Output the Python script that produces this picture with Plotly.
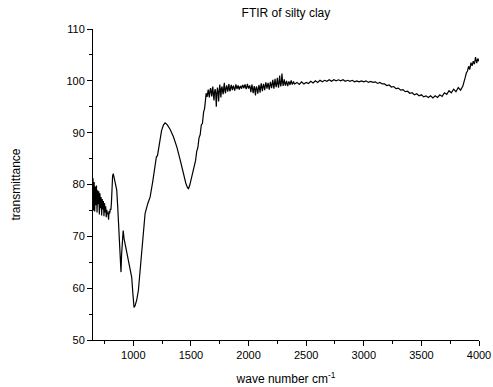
import plotly.graph_objects as go

# wavenumber (cm^-1) and transmittance values
wn_low = [650, 655, 660, 665, 670, 675, 680, 685, 690, 695, 700, 705, 710, 715, 720,
          725, 730, 735, 740, 745, 750, 755, 760, 765, 770, 775, 780, 785, 790, 795, 800]
tr_low = [81.2, 75.0, 80.5, 74.8, 79.6, 76.0, 79.8, 74.6, 78.9, 76.2, 78.7, 74.2, 78.3, 75.4, 77.6,
          74.0, 77.2, 75.2, 76.8, 73.9, 76.4, 74.6, 75.8, 73.7, 75.1, 74.3, 74.6, 73.2, 74.9, 74.4, 75.3]

wn_fp = [805, 810, 815, 820, 826, 835, 845, 856, 865, 875, 885, 893, 898, 905, 912, 920, 934,
         950, 963, 975, 986, 996, 1006, 1015, 1030, 1044, 1058, 1073, 1088, 1102, 1125, 1146,
         1168, 1189, 1196, 1200, 1210, 1225, 1245, 1262, 1276, 1295, 1320, 1348, 1378, 1407,
         1430, 1455, 1470, 1479, 1490, 1505, 1522, 1530, 1540, 1550, 1560, 1570, 1580, 1590,
         1600, 1610, 1618, 1624, 1632, 1640]
tr_fp = [75.1, 76.5, 79.5, 81.6, 82.1, 81.0, 80.0, 78.9, 75.5, 70.0, 65.0, 63.1, 66.5, 70.0, 71.1, 69.5, 67.9,
         66.6, 65.3, 63.6, 62.1, 59.0, 56.3, 56.6, 57.8, 59.6, 63.0, 67.3, 71.5, 74.4, 76.3, 77.6,
         80.5, 83.4, 85.0, 85.3, 85.6, 87.8, 90.4, 91.5, 91.9, 91.5, 90.6, 89.2, 87.2, 84.7,
         82.4, 80.3, 79.4, 79.2, 79.9, 81.2, 82.7, 83.6, 84.6, 86.4, 87.1, 89.0, 89.6, 91.5,
         91.8, 94.0, 94.6, 95.8, 97.6, 96.9]

wn_mid = list(range(1650, 2405, 5))
tr_mid = [98.3, 97.4, 96.8, 98.1, 98.6, 97.8, 97.0, 98.3, 98.9, 97.2,
          96.2, 97.9, 98.4, 97.6, 95.0, 97.5, 98.7, 98.0, 96.0, 97.7,
          99.3, 98.2, 96.8, 98.5, 98.9, 97.9, 97.4, 98.8, 99.6, 98.1,
          97.6, 98.6, 99.1, 98.4, 97.9, 98.9, 99.4, 98.2, 98.0, 98.8,
          99.2, 98.6, 98.2, 98.9, 99.0, 98.5, 98.1, 98.7, 99.3, 98.8,
          98.4, 98.9, 99.1, 98.6, 98.3, 98.8, 99.0, 98.7, 98.5, 99.0,
          99.2, 98.8, 98.6, 99.1, 99.3, 98.7, 98.4, 98.9, 99.4, 98.9,
          98.5, 98.8, 99.1, 98.6, 97.8, 98.7, 99.3, 98.4, 97.6, 98.5,
          99.0, 98.1, 97.2, 98.6, 98.9, 98.3, 97.5, 98.4, 99.2, 98.6,
          97.7, 98.8, 99.5, 98.7, 98.0, 98.9, 99.4, 98.8, 98.2, 99.0,
          99.7, 99.1, 98.5, 99.2, 99.6, 98.9, 98.3, 99.1, 99.8, 99.2,
          98.6, 99.3, 100.2, 99.4, 98.5, 99.5, 100.4, 99.3, 98.8, 99.6,
          100.6, 99.5, 98.7, 99.7, 101.0, 99.6, 98.9, 99.8, 101.4, 99.9,
          99.0, 99.7, 100.3, 99.5, 99.1, 99.6, 100.0, 99.4, 99.0, 99.5,
          99.9, 99.6, 99.2, 99.7, 100.1, 99.6, 99.3, 99.6, 99.9, 99.5,
          99.4]

wn_high = list(range(2420, 3860, 20)) + [3860, 3870, 3880, 3890, 3900, 3910, 3920, 3930,
                                          3940, 3950, 3960, 3970, 3980, 3990, 4000]
tr_high = [99.7, 99.3, 99.8, 99.4, 99.7, 99.5, 99.9, 99.6, 100.0, 99.7,
           100.1, 99.8, 100.1, 99.9, 100.2, 99.9, 100.2, 100.0, 100.2, 100.0,
           100.2, 99.9, 100.1, 99.9, 100.1, 99.8, 100.0, 99.8, 100.0, 99.8,
           100.0, 99.7, 99.9, 99.7, 99.8, 99.5, 99.7, 99.4, 99.4, 99.1,
           99.2, 98.8, 98.9, 98.5, 98.6, 98.2, 98.3, 97.9, 98.0, 97.6,
           97.7, 97.3, 97.5, 97.1, 97.3, 96.9, 97.1, 96.8, 97.1, 96.7,
           97.1, 96.8, 97.3, 97.0, 97.7, 97.4, 98.1, 97.7, 98.4, 97.9,
           98.7, 98.2,
           99.0, 99.6, 100.6, 101.5, 101.9, 102.8, 102.2, 103.5,
           102.9, 103.8, 103.2, 104.6, 103.4, 104.3, 103.8]

wavenumber = wn_low + wn_fp + wn_mid + wn_high
transmittance = tr_low + tr_fp + tr_mid + tr_high

x_ticks = [1000, 1500, 2000, 2500, 3000, 3500, 4000]
y_ticks = [50, 60, 70, 80, 90, 100, 110]

FONT = "Liberation Sans, Arial, sans-serif"

fig = go.Figure()
fig.add_trace(go.Scatter(x=wavenumber, y=transmittance, mode="lines",
                         line=dict(color="black", width=1.2), showlegend=False))

axis_common = dict(showline=True, linecolor="black", linewidth=1, mirror=False,
                   ticks="outside", ticklen=5, tickwidth=1, tickcolor="black",
                   showgrid=False, zeroline=False, automargin=False,
                   tickfont=dict(family=FONT, size=11, color="black"))

fig.update_layout(
    width=493, height=387,
    margin=dict(l=93, r=14, t=29, b=47),
    paper_bgcolor="white", plot_bgcolor="white",
    font=dict(family=FONT, color="black"),
    title=dict(text="FTIR of silty clay", x=0.58, xanchor="center", y=0.968, yanchor="middle",
               font=dict(family=FONT, size=12, color="black")),
    xaxis=dict(range=[650, 4000], tickvals=x_ticks, ticktext=[str(v) for v in x_ticks],
               minor=dict(ticks="outside", ticklen=3, tickwidth=1, tickcolor="black",
                          tickvals=[750, 1250, 1750, 2250, 2750, 3250, 3750]),
               title=dict(text="wave number cm<sup>-1</sup>", standoff=14,
                          font=dict(family=FONT, size=12, color="black")),
               **axis_common),
    yaxis=dict(range=[50, 110], tickvals=y_ticks, ticktext=[str(v) for v in y_ticks],
               minor=dict(ticks="outside", ticklen=3, tickwidth=1, tickcolor="black",
                          tickvals=[55, 65, 75, 85, 95, 105]),
               title=dict(text="transmittance", standoff=43,
                          font=dict(family=FONT, size=12, color="black")),
               **axis_common),
)

fig.write_html("out.html")
